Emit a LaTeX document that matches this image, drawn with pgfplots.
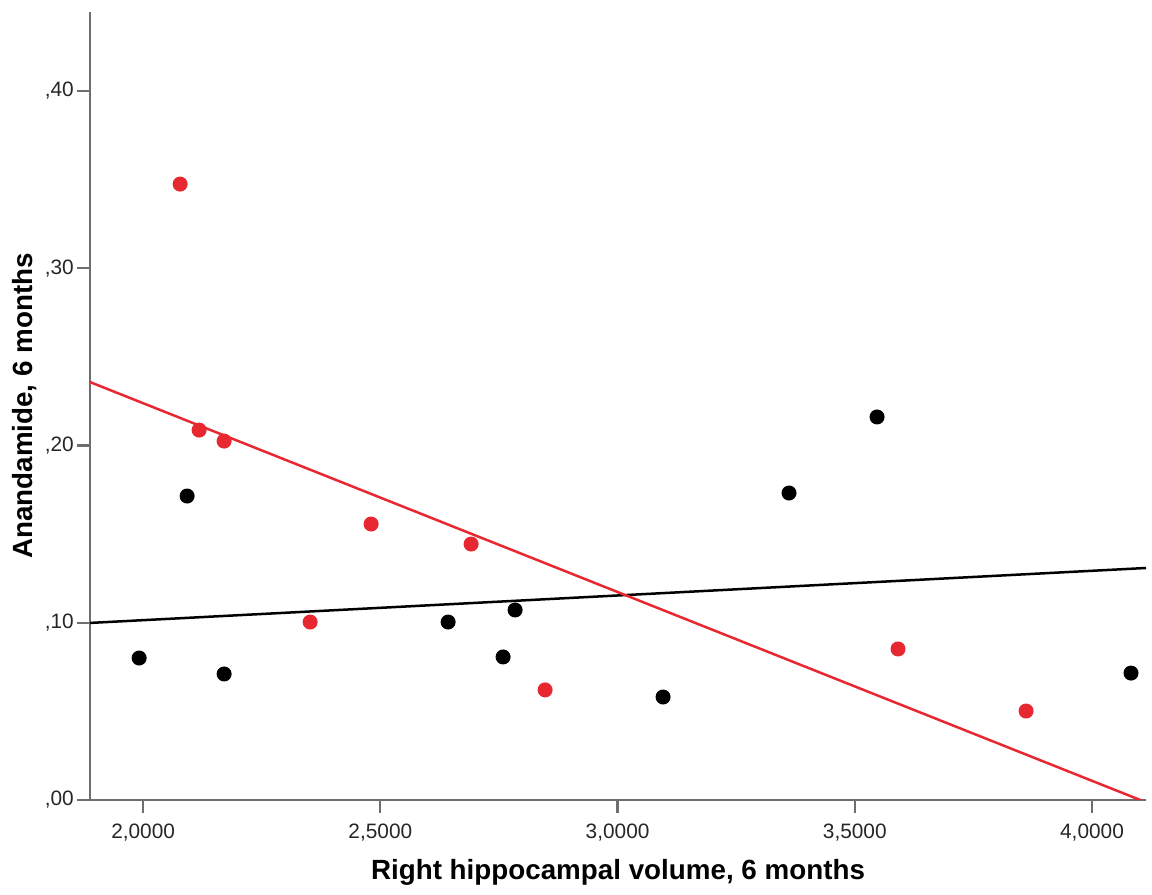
\documentclass[border=0pt]{standalone}
\usepackage{pgfplots}
\pgfplotsset{compat=1.18}
\usepackage{fontspec}
\setmainfont{Liberation Sans}
\usetikzlibrary{calc}
\definecolor{spssred}{RGB}{232,40,48}
\definecolor{axgray}{RGB}{110,110,110}
\begin{document}
\begin{tikzpicture}
\begin{axis}[
  scale only axis,
  width=380.16pt, height=283.68pt,
  xmin=1.888, xmax=4.1138, ymin=0, ymax=0.4446,
  axis x line*=bottom, axis y line*=left,
  axis line style={axgray, line width=0.8pt, -},
  xtick={2,2.5,3,3.5,4},
  xticklabels={{2,0000},{2,5000},{3,0000},{3,5000},{4,0000}},
  ytick={0,0.1,0.2,0.3,0.4},
  yticklabels={{,00},{,10},{,20},{,30},{,40}},
  tick align=outside,
  major tick length=4.6pt,
  tick style={axgray, line width=0.8pt},
  /pgf/number format/assume math mode=true,
  tick label style={font=\fontsize{7.5}{9}\selectfont, text=black!85},
  xticklabel style={yshift=-0.5pt},
  yticklabel style={xshift=2.3pt},
  xlabel={Right hippocampal volume, 6 months},
  ylabel={Anandamide, 6 months},
  xlabel style={font=\bfseries\fontsize{10}{12}\selectfont, at={(rel axis cs:0.5,0)}, anchor=center, yshift=-26pt},
  ylabel style={font=\bfseries\fontsize{10}{12}\selectfont, at={(rel axis cs:0,0.5)}, anchor=center, yshift=23.4pt},
  clip=true,
]
\addplot[black, line width=0.9pt] coordinates {(1.888,0.0999) (4.1138,0.1309)};
\addplot[spssred, line width=0.9pt] coordinates {(1.888,0.2358) (4.1138,-0.0013)};
\addplot[only marks, mark=*, mark size=2.5pt, black, mark options={draw=black, fill=black}] coordinates {
(1.9916,0.0801) (2.0927,0.1715) (2.1707,0.0711) (2.6428,0.1004) (2.7587,0.0807)
(2.7840,0.1072) (3.0959,0.0581) (3.3614,0.1732) (3.5469,0.2161) (4.0822,0.0716)
};
\addplot[only marks, mark=*, mark size=2.5pt, spssred, mark options={draw=spssred, fill=spssred}] coordinates {
(2.0780,0.3475) (2.1180,0.2087) (2.1707,0.2025) (2.3520,0.1004) (2.4805,0.1557)
(2.6913,0.1444) (2.8472,0.0621) (3.5911,0.0852) (3.8610,0.0502)
};
\coordinate (ll) at (rel axis cs:0,0);
\coordinate (ur) at (rel axis cs:1,1);
\end{axis}
\useasboundingbox ($(ll)+(-32.4pt,-33.48pt)$) rectangle ($(ur)+(2.16pt,4.32pt)$);
\end{tikzpicture}
\end{document}
